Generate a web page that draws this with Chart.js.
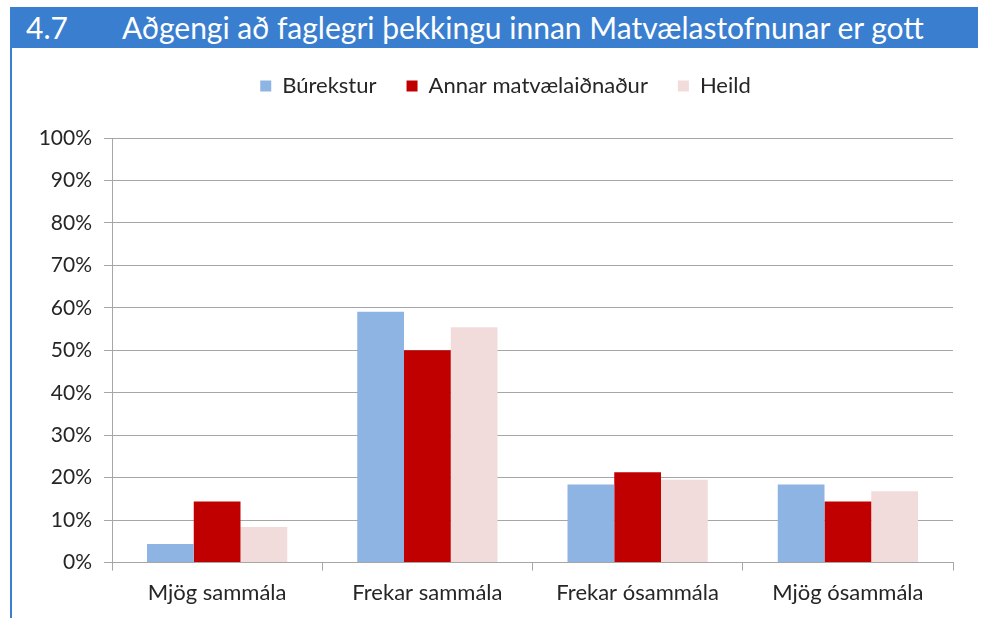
<!DOCTYPE html>
<html>
<head>
<meta charset="utf-8">
<script src="https://cdn.jsdelivr.net/npm/chart.js@4"></script>
<style>
  body { margin: 0; background: #fff; }
  #wrap { position: relative; width: 984px; height: 618px; overflow: hidden; }
  #head { position: absolute; left: 10px; top: 7px; width: 968px; height: 41px; background: #3a7ecf; color: #fff;
          font-family: Lato, sans-serif; font-size: 30px; line-height: 41px; z-index: 2; }
  #head span { position: absolute; top: 0; }
  #edge { position: absolute; left: 10px; top: 48px; width: 2px; height: 570px; background: #3a7ecf; z-index: 2; }
  canvas { position: absolute; left: 0; top: 0; }
</style>
</head>
<body>
<div id="wrap">
  <div id="head"><span style="left:16px">4.7</span><span style="left:112px">Aðgengi að faglegri þekkingu innan Matvælastofnunar er gott</span></div>
  <div id="edge"></div>
  <canvas id="chart" width="984" height="618"></canvas>
</div>
<script>
const categories = ['Mjög sammála', 'Frekar sammála', 'Frekar ósammála', 'Mjög ósammála'];
const burekstur = [4.4, 59.1, 18.4, 18.4];
const annar = [14.4, 50.0, 21.3, 14.4];
const heild = [8.4, 55.4, 19.5, 16.8];
const seriesNames = ['Búrekstur', 'Annar matvælaiðnaður', 'Heild'];
const yTicks = [0, 10, 20, 30, 40, 50, 60, 70, 80, 90, 100];

const gridColor = '#a6a6a6';
const textColor = '#262626';

// legend: more room below it, and nudged right like the original
const legendTweak = {
  id: 'legendTweak',
  afterInit(chart) {
    const fit = chart.legend.fit;
    chart.legend.fit = function() {
      fit.call(this);
      this.height += 31;
    };
  },
  afterLayout(chart) {
    chart.legend.left += 29;
    chart.legend.right += 29;
  }
};

const ctx = document.getElementById('chart').getContext('2d');
new Chart(ctx, {
  type: 'bar',
  data: {
    labels: categories,
    datasets: [
      { label: seriesNames[0], data: burekstur, backgroundColor: '#8eb4e3' },
      { label: seriesNames[1], data: annar, backgroundColor: '#c00000' },
      { label: seriesNames[2], data: heild, backgroundColor: '#f2dcdb' }
    ]
  },
  options: {
    responsive: false,
    animation: false,
    events: [],
    categoryPercentage: 0.667,
    barPercentage: 1.0,
    layout: {
      padding: { top: 45, left: 0, right: 31, bottom: 3 }
    },
    plugins: {
      legend: {
        labels: {
          boxWidth: 11,
          boxHeight: 11,
          padding: 30,
          color: textColor,
          font: { family: 'Lato', size: 22 }
        }
      },
      tooltip: { enabled: false }
    },
    scales: {
      x: {
        grid: {
          drawOnChartArea: false,
          drawTicks: true,
          tickLength: 8,
          color: gridColor
        },
        border: { color: gridColor },
        ticks: {
          padding: 9,
          maxRotation: 0,
          color: textColor,
          font: { family: 'Lato', size: 22 }
        }
      },
      y: {
        min: 0,
        max: 100,
        afterFit(scale) { scale.width = 112; },
        afterBuildTicks(scale) { scale.ticks = yTicks.map(v => ({ value: v })); },
        grid: {
          color: gridColor,
          tickLength: 8
        },
        border: { color: gridColor },
        ticks: {
          padding: 12,
          color: textColor,
          font: { family: 'Lato', size: 21 },
          callback: function(value) { return value + '%'; }
        }
      }
    }
  },
  plugins: [legendTweak]
});
</script>
</body>
</html>
